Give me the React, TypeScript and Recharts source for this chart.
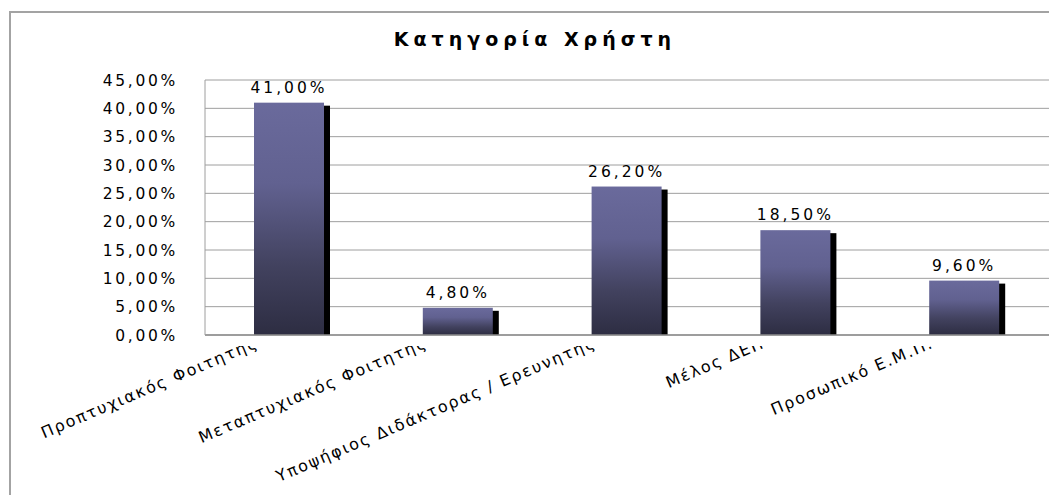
import React from "react";
import { BarChart, Bar, XAxis, YAxis, CartesianGrid, LabelList } from "recharts";

const categories = [
  "Προπτυχιακός Φοιτητής",
  "Μεταπτυχιακός Φοιτητής",
  "Υποψήφιος Διδάκτορας / Ερευνητής",
  "Μέλος ΔΕΠ",
  "Προσωπικό Ε.Μ.Π.",
];
const shares = [41.0, 4.8, 26.2, 18.5, 9.6];
const yTicks = [0, 5, 10, 15, 20, 25, 30, 35, 40, 45];
const title = "Κατηγορία Χρήστη";

const data = categories.map((c, i) => ({ name: c, value: shares[i] }));

const W = 1049;
const H = 487;
const FONT = "'DejaVu Sans', Verdana, sans-serif";

const fmt = (v: number) => v.toFixed(2).replace(".", ",") + "%";

const BarShape = (props: any) => {
  const { x, y, width, height } = props;
  if (height <= 0) return null;
  return (
    <g>
      <rect x={x + 6} y={y + 3} width={width} height={Math.max(0, height - 3)} fill="#000" />
      <rect x={x} y={y} width={width} height={height} fill="url(#barGrad)" />
    </g>
  );
};

const XTick = (props: any) => {
  const { x, y, payload, index } = props;
  const id = `xclip${index}`;
  return (
    <g>
      <defs>
        <clipPath id={id}>
          <rect x={0} y={y + 11} width={2000} height={500} />
        </clipPath>
      </defs>
      <g clipPath={`url(#${id})`}>
        <text
          x={0}
          y={0}
          transform={`translate(${x - 30},${y + 12}) rotate(-23)`}
          textAnchor="end"
          fontFamily={FONT}
          fontSize={16}
          letterSpacing={1.8}
          fill="#000"
        >
          {payload.value}
        </text>
      </g>
    </g>
  );
};

const ValueLabel = (props: any) => {
  const { x, y, width, value } = props;
  return (
    <text
      x={x + width / 2}
      y={y - 10}
      textAnchor="middle"
      fontFamily={FONT}
      fontSize={15.5}
      letterSpacing={3}
      fill="#000"
    >
      {fmt(value)}
    </text>
  );
};

export default function App() {
  return (
    <div style={{ position: "relative", width: W, height: H, overflow: "hidden" }}>
      <svg width={W} height={H} style={{ position: "absolute", left: 0, top: 0 }}>
        <rect x={2} y={4} width={3000} height={3000} fill="#fff" stroke="#a3a3a3" strokeWidth={2} />
        <text
          x={527}
          y={38}
          textAnchor="middle"
          fontFamily={FONT}
          fontWeight="bold"
          fontSize={19}
          letterSpacing={5}
          fill="#000"
        >
          {title}
        </text>
      </svg>
      <div style={{ position: "absolute", left: 0, top: 0 }}>
        <BarChart
          width={W}
          height={H}
          data={data}
          margin={{ top: 72, right: 8, left: 0, bottom: 10 }}
          barSize={70}
        >
          <defs>
            <linearGradient id="barGrad" x1="0" y1="0" x2="0" y2="1">
              <stop offset="0%" stopColor="#6a6a9c" />
              <stop offset="35%" stopColor="#616190" />
              <stop offset="70%" stopColor="#42425f" />
              <stop offset="100%" stopColor="#2d2d42" />
            </linearGradient>
          </defs>
          <CartesianGrid vertical={false} stroke="#9e9e9e" strokeWidth={1} />
          <XAxis
            dataKey="name"
            height={150}
            interval={0}
            tickLine={false}
            tickSize={0}
            tickMargin={0}
            axisLine={{ stroke: "#8c8c8c", strokeWidth: 1.5 }}
            tick={<XTick />}
          />
          <YAxis
            width={197}
            domain={[0, 45]}
            ticks={yTicks}
            interval={0}
            tickLine={false}
            tickSize={0}
            tickMargin={27}
            axisLine={{ stroke: "#9e9e9e" }}
            tickFormatter={fmt}
            tick={{ fontFamily: FONT, fontSize: 15.5, letterSpacing: 2.7, fill: "#000" }}
          />
          <Bar dataKey="value" shape={<BarShape />} isAnimationActive={false}>
            <LabelList dataKey="value" content={<ValueLabel />} />
          </Bar>
        </BarChart>
      </div>
    </div>
  );
}
